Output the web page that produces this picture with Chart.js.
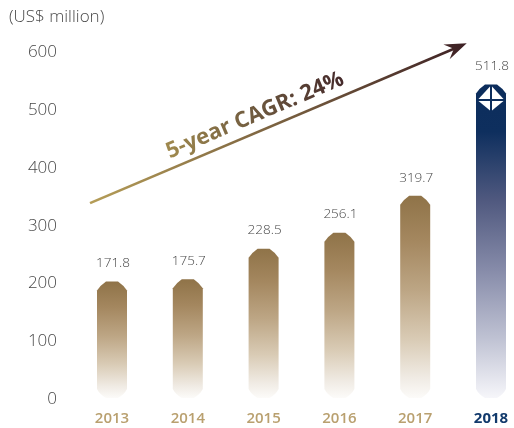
<!DOCTYPE html>
<html lang="en">

<head>
    <meta charset="UTF-8">
    <title>Revenue 2013-2018</title>
    <style>
        html, body { margin: 0; padding: 0; background: #fff; overflow: hidden; }
        canvas { display: block; }
    </style>
</head>

<body>
    <canvas id="myChart" width="514" height="428"></canvas>

    <script src="https://cdn.jsdelivr.net/npm/chart.js@4.4.2/dist/chart.umd.min.js"></script>

    <script>
        const years = ['2013', '2014', '2015', '2016', '2017', '2018'];
        const revenue = [171.8, 175.7, 228.5, 256.1, 319.7, 511.8];
        const yTicks = [0, 100, 200, 300, 400, 500, 600];
        const unitLabel = '(US$ million)';
        const trendLabel = '5-year CAGR: 24%';

        const FONT = '"Open Sans", sans-serif';
        const GOLD_TEXT = '#b9a06f';
        const NAVY_TEXT = '#123a6c';
        const GREY_TEXT = '#484848';
        const isLast = function (i) { return i === years.length - 1; };

        // bars are cut at the corners instead of rounded, so they get their own path
        var barPath = function (ctx, left, right, top, bottom, cut) {
            ctx.beginPath();
            ctx.moveTo(left + cut, top);
            ctx.lineTo(right - cut, top);
            ctx.quadraticCurveTo(right - cut * 0.4, top + cut * 0.4, right, top + cut);
            ctx.lineTo(right, bottom - cut);
            ctx.quadraticCurveTo(right - cut * 0.3, bottom - cut * 0.4, right - cut, bottom);
            ctx.lineTo(left + cut, bottom);
            ctx.quadraticCurveTo(left + cut * 0.3, bottom - cut * 0.4, left, bottom - cut);
            ctx.lineTo(left, top + cut);
            ctx.quadraticCurveTo(left + cut * 0.4, top + cut * 0.4, left + cut, top);
            ctx.closePath();
        };

        var barFill = function (ctx, bar, last) {
            const g = ctx.createLinearGradient(0, bar.y, 0, bar.base);
            if (last) {
                g.addColorStop(0, '#0c2d5c');
                g.addColorStop(0.15, '#0e2f5e');
                g.addColorStop(0.37, '#50597f');
                g.addColorStop(0.59, '#868ba9');
                g.addColorStop(0.81, '#bfc2d3');
                g.addColorStop(1, '#f6f6fa');
            } else {
                g.addColorStop(0, '#8f7348');
                g.addColorStop(0.22, '#a4875f');
                g.addColorStop(0.47, '#bda685');
                g.addColorStop(0.71, '#d9cbb5');
                g.addColorStop(0.9, '#f0ebe4');
                g.addColorStop(1, '#fcfbf9');
            }
            return g;
        };

        // white four-part badge at the top of the 2018 bar
        var drawBadge = function (ctx, cx, cy) {
            const w = 12.5, up = 13.5, down = 10.5, gap = 1;
            ctx.fillStyle = '#fff';
            [[-1, -up], [1, -up], [-1, down], [1, down]].forEach(function (q) {
                const dy = q[1] < 0 ? -gap : gap;
                ctx.beginPath();
                ctx.moveTo(cx + q[0] * gap, cy + dy);
                ctx.lineTo(cx + q[0] * w, cy + dy);
                ctx.lineTo(cx + q[0] * gap, cy + q[1]);
                ctx.closePath();
                ctx.fill();
            });
        };

        const chamferBars = {
            id: 'chamferBars',
            beforeDatasetDraw: function (chart, args) {
                const ctx = chart.ctx;
                args.meta.data.forEach(function (el, i) {
                    const bar = el.getProps(['x', 'y', 'base', 'width'], true);
                    const half = bar.width / 2;
                    ctx.save();
                    barPath(ctx, bar.x - half, bar.x + half, bar.y, bar.base, 9);
                    ctx.fillStyle = barFill(ctx, bar, isLast(i));
                    ctx.fill();
                    if (isLast(i)) drawBadge(ctx, bar.x, bar.y + 15.5);
                    ctx.restore();
                });
                return false;
            },
            afterDatasetsDraw: function (chart) {
                const ctx = chart.ctx;
                ctx.save();
                ctx.font = '300 13.5px ' + FONT;
                ctx.fillStyle = GREY_TEXT;
                ctx.textAlign = 'center';
                ctx.textBaseline = 'middle';
                chart.getDatasetMeta(0).data.forEach(function (el, i) {
                    ctx.fillText(revenue[i].toFixed(1), el.x + 1, el.y - 18);
                });
                ctx.restore();
            }
        };

        // growth arrow, placed on the same scales as the bars
        const trendArrow = {
            id: 'trendArrow',
            afterDraw: function (chart) {
                const ctx = chart.ctx;
                const x = chart.scales.x, y = chart.scales.y;
                const x0 = x.getPixelForValue(-0.29), y0 = y.getPixelForValue(307);
                const x1 = x.getPixelForValue(4.68), y1 = y.getPixelForValue(583);
                const angle = Math.atan2(y1 - y0, x1 - x0);
                const len = Math.hypot(x1 - x0, y1 - y0);

                ctx.save();
                ctx.translate(x0, y0);
                ctx.rotate(angle);
                const g = ctx.createLinearGradient(0, 0, len, 0);
                g.addColorStop(0, '#b59d57');
                g.addColorStop(0.5, '#7a6140');
                g.addColorStop(1, '#3d2024');

                ctx.strokeStyle = g;
                ctx.lineWidth = 2.6;
                ctx.beginPath();
                ctx.moveTo(0, 0);
                ctx.lineTo(len - 12, 0);
                ctx.stroke();

                ctx.fillStyle = g;
                ctx.beginPath();
                ctx.moveTo(len, 0);
                ctx.lineTo(len - 22, -8);
                ctx.lineTo(len - 14, 0);
                ctx.lineTo(len - 22, 8);
                ctx.closePath();
                ctx.fill();

                // label runs gold to dark over its own width
                ctx.font = 'bold 22px ' + FONT;
                ctx.textAlign = 'center';
                ctx.textBaseline = 'alphabetic';
                const mid = len * 0.455;
                const half = ctx.measureText(trendLabel).width / 2;
                const tg = ctx.createLinearGradient(mid - half, 0, mid + half, 0);
                tg.addColorStop(0, '#a08a4e');
                tg.addColorStop(0.5, '#6f5a3f');
                tg.addColorStop(1, '#452a2b');
                ctx.fillStyle = tg;
                ctx.fillText(trendLabel, mid, -10);
                ctx.restore();
            }
        };

        new Chart(document.getElementById('myChart'), {
            type: 'bar',
            data: {
                labels: years,
                datasets: [{
                    data: revenue,
                    base: -29.3,
                    barThickness: 30,
                    backgroundColor: '#8f7348',
                }]
            },
            options: {
                responsive: false,
                animation: false,
                layout: {
                    padding: { left: 9, right: 23, top: 0, bottom: 0 },
                },
                scales: {
                    x: {
                        offset: false,
                        grid: { display: false, drawTicks: false },
                        border: { display: false },
                        afterFit: function (scale) {
                            scale.height = 30;
                            scale.paddingLeft = 0;
                            scale.paddingRight = 0;
                        },
                        ticks: {
                            maxRotation: 0,
                            autoSkip: false,
                            padding: 12,
                            color: function (c) { return isLast(c.index) ? NAVY_TEXT : GOLD_TEXT; },
                            font: function (c) {
                                return { family: FONT, size: 15, weight: isLast(c.index) ? 'bold' : '600' };
                            },
                        },
                    },
                    y: {
                        min: -29.3,
                        max: 600,
                        grid: { display: false, drawTicks: false },
                        border: { display: false },
                        afterBuildTicks: function (scale) {
                            scale.ticks = yTicks.map(function (v) { return { value: v }; });
                        },
                        // the wide tick padding must not eat into the plot height
                        afterFit: function (scale) {
                            scale.width = 103;
                            scale.paddingTop = 0;
                            scale.paddingBottom = 0;
                        },
                        ticks: {
                            padding: 55,
                            labelOffset: 18.5,
                            color: GREY_TEXT,
                            font: { family: FONT, size: 17, weight: '300' },
                        },
                    },
                },
                plugins: {
                    legend: { display: false },
                    tooltip: { enabled: false },
                    title: {
                        display: true,
                        text: unitLabel,
                        align: 'start',
                        color: GREY_TEXT,
                        font: { family: FONT, size: 17, weight: '300' },
                        padding: { top: 7, bottom: 6 },
                    },
                },
            },
            plugins: [chamferBars, trendArrow],
        });
    </script>
</body>

</html>
